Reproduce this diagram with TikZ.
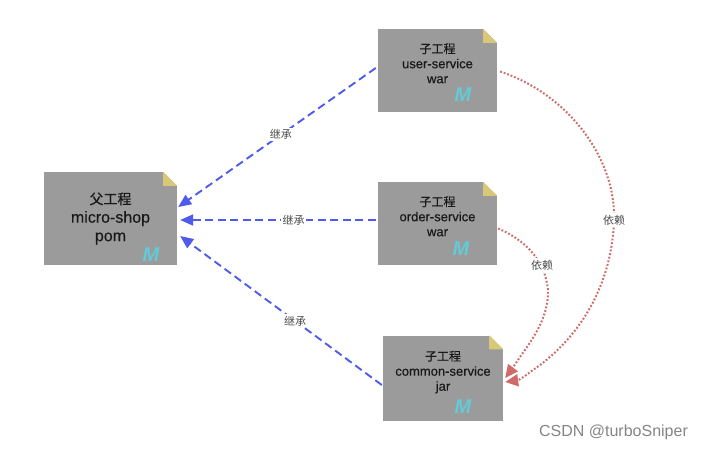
\documentclass[tikz,border=0pt]{standalone}
\usepackage{fontspec}
\setmainfont{Liberation Sans}
\newfontfamily\latb[FakeBold=0.35]{Liberation Sans}
\newfontfamily\cjk{Noto Sans CJK SC}
\newfontfamily\cjkb[FakeBold=0.35]{Noto Sans CJK SC}
\usetikzlibrary{arrows.meta,calc}
\definecolor{boxgray}{HTML}{9B9B9B}
\definecolor{foldc}{HTML}{D9C878}
\definecolor{mcyan}{HTML}{62CBD8}
\definecolor{inh}{HTML}{4F5BEA}
\definecolor{dep}{HTML}{CF6B68}
\definecolor{wm}{HTML}{858585}
\tikzset{
  x=1pt,y=-1pt,
  filebox/.style={fill=boxgray,draw=none,inner sep=0pt,align=center,font=\fontsize{13}{15}\selectfont\latb\color{black!90}},
  parentbox/.style={filebox,font=\fontsize{16}{18.5}\selectfont\latb\color{black!90}},
  inherit/.style={draw=inh,line width=1.9pt,dash pattern=on 8pt off 4.5pt,-{Triangle[length=13pt,width=11pt,fill=inh]}},
  depends/.style={draw=dep,line width=2pt,dash pattern=on 1.8pt off 1.9pt,-{Triangle[length=13pt,width=12pt,fill=dep]}},
  elabel/.style={fill=white,inner sep=1.5pt,font=\fontsize{11}{13}\selectfont\cjk\color{black!70}},
  logo/.style={font=\fontsize{20}{20}\selectfont\bfseries\itshape\color{mcyan},inner sep=0pt},
}
\newcommand{\childhead}{{\fontsize{12}{15}\selectfont\cjkb 子工程}}
\newcommand{\foldcorner}[1]{%
  \fill[white] ($(#1.north east)+(-14,0)$) -- (#1.north east) -- ($(#1.north east)+(0,14)$) -- cycle;
  \fill[foldc] ($(#1.north east)+(-14,0)$) -- ($(#1.north east)+(0,14)$) -- ($(#1.north east)+(-14,14)$) -- cycle;
}
\begin{document}
\begin{tikzpicture}
\useasboundingbox[fill=white] (0,0) rectangle (702,450);

\node[parentbox,minimum width=133pt,minimum height=93pt] (parent) at (110.5,218.5)
  {{\fontsize{14}{18.5}\selectfont\cjkb 父工程}\\micro-shop\\pom};
\node[filebox,minimum width=119pt,minimum height=83pt] (user) at (437.5,70.5)
  {\childhead\\user-service\\war\\[-0.5pt]};
\node[filebox,minimum width=119pt,minimum height=83pt] (order) at (437.5,223.5)
  {\childhead\\order-service\\war\\[-0.5pt]};
\node[filebox,minimum width=120pt,minimum height=85pt] (common) at (443,378)
  {\childhead\\common-service\\jar\\[-0.5pt]};

\foldcorner{parent}\foldcorner{user}\foldcorner{order}\foldcorner{common}

\node[logo] (mparent) at (151,255) {M};
\node[logo] (muser) at (463,95) {M};
\node[logo] (morder) at (461,249) {M};
\node[logo] (mcommon) at (463,407) {M};

\coordinate (pa) at ($(parent.east)+(1,-11.5)$);
\coordinate (pb) at ($(parent.east)+(3,1.5)$);
\coordinate (pc) at ($(parent.east)+(3,17.5)$);
\coordinate (us) at ($(user.west)+(-2,-2.5)$);
\coordinate (os) at ($(order.west)+(-2,-3.5)$);
\coordinate (cs) at ($(common.west)+(-1,7)$);
\coordinate (ue) at ($(user.east)+(3,1)$);
\coordinate (oe) at ($(order.east)+(1,5)$);
\coordinate (ca) at ($(common.east)+(2,0)$);
\coordinate (cb) at ($(common.east)+(2,4)$);

\draw[inherit] (us) -- node[elabel,pos=.48] (l1) {继承} (pa);
\draw[inherit] (os) -- node[elabel,pos=.42] (l2) {继承} (pb);
\draw[inherit] (cs) -- node[elabel,pos=.43] (l3) {继承} (pc);

\draw[depends] (ue) .. controls (570,95) and (616,160) .. (614,220)
   .. controls (612,285) and (580,335) .. (540,365)
   .. controls (530,372) and (520,380) .. (cb);
\draw[depends] (oe) .. controls (525,240) and (545,260) .. (548,290)
   .. controls (549,320) and (528,345) .. (520,357)
   .. controls (516,363) and (512,369) .. (ca);
\node[elabel] (l4) at (614,220) {依赖};
\node[elabel] (l5) at (542,265) {依赖};

\node[font=\fontsize{16}{18}\selectfont\color{wm},inner sep=0pt] (wm) at (613.5,432.5) {CSDN @turboSniper};
\end{tikzpicture}
\end{document}
